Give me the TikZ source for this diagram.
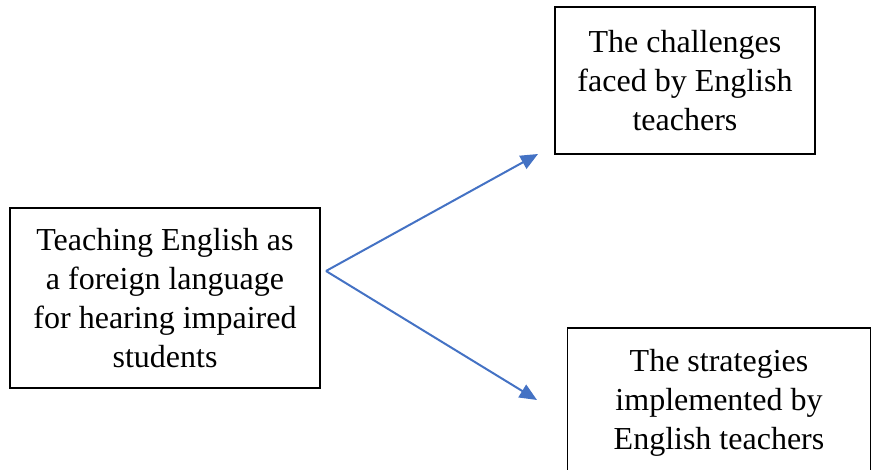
\documentclass[tikz,border=0pt]{standalone}
\usepackage{fontspec}
\setmainfont{Liberation Serif}
\usetikzlibrary{arrows.meta}

\definecolor{wordblue}{RGB}{68,114,196}
\tikzset{every picture/.style={line width=0.75pt}}
\tikzset{
  textbox/.style={draw=black, line width=1pt, inner sep=0pt, align=center,
    font=\fontsize{24}{29.25}\selectfont},
  flowarrow/.style={draw=wordblue, line width=1.5pt,
    -{Triangle[length=13pt,width=11pt]}}
}

\begin{document}
\begin{tikzpicture}[x=0.75pt,y=0.75pt,yscale=-1,xscale=1]
\useasboundingbox (0,0) rectangle (872,470);

%Shape: Rectangle [id:teach]
\node [textbox, minimum width=232.5pt, minimum height=135pt] (teach) at (165,298)
  {Teaching English as\\a foreign language\\for hearing impaired\\students};
%Shape: Rectangle [id:challenge]
\node [textbox, minimum width=195pt, minimum height=110.25pt] (challenge) at (685,80.5)
  {The challenges\\faced by English\\teachers};
%Shape: Rectangle [id:strategy]
\node [textbox, minimum width=227.25pt, minimum height=112.5pt] (strategy) at (719,403)
  {The strategies\\implemented by\\English teachers};

% Arrow points
\coordinate (split) at (326,271);
\coordinate (upend) at (538,154);
\coordinate (downend) at (537,400);

%Straight Lines [id:up]
\draw [flowarrow] (split) -- (upend);
%Straight Lines [id:down]
\draw [flowarrow] (split) -- (downend);

\end{tikzpicture}
\end{document}
